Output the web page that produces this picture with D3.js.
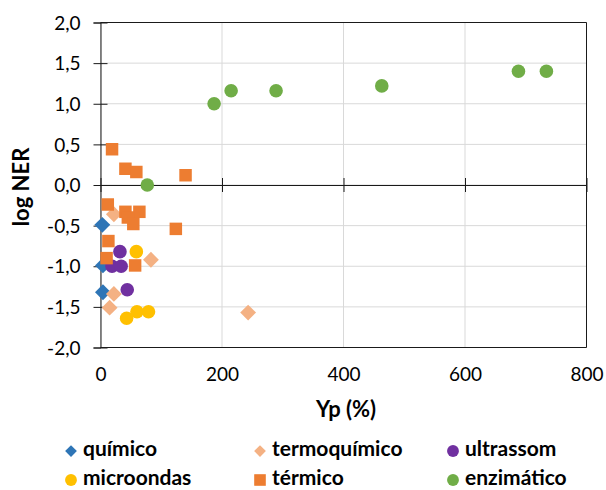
<!DOCTYPE html>
<html>
<head>
<meta charset="utf-8">
<script src="https://cdn.jsdelivr.net/npm/d3@7"></script>
<style>
  body { margin: 0; background: #fff; }
  text { font-family: Lato, "Liberation Sans", sans-serif; fill: #000; }
</style>
</head>
<body>
<div id="chart"></div>
<script>
const width = 606;
const height = 490;

// data: [Yp (%), log NER]
const quimico = [[3, -0.49], [4, -0.99], [4, -1.32]];
const termoquimico = [[22, -0.36], [83, -0.92], [22, -1.34], [15, -1.51], [243, -1.57]];
const ultrassom = [[32, -0.82], [19, -1.0], [34, -1.0], [44, -1.29]];
const microondas = [[59, -0.82], [43, -1.64], [60, -1.56], [79, -1.56]];
const termico = [[19, 0.44], [41, 0.20], [59, 0.16], [140, 0.12], [12, -0.24], [41, -0.33],
  [64, -0.33], [45, -0.40], [54, -0.48], [124, -0.54], [13, -0.69], [10, -0.90], [57, -0.99]];
const enzimatico = [[77, 0.0], [187, 1.0], [215, 1.16], [289, 1.16], [463, 1.22], [688, 1.40], [734, 1.40]];

const xTicks = [0, 200, 400, 600, 800];
const yTicks = [-2, -1.5, -1, -0.5, 0, 0.5, 1, 1.5, 2];

const series = [
  { name: "químico", data: quimico, color: "#2E75B6", shape: "diamond" },
  { name: "termoquímico", data: termoquimico, color: "#F4B183", shape: "diamond" },
  { name: "ultrassom", data: ultrassom, color: "#7030A0", shape: "circle" },
  { name: "microondas", data: microondas, color: "#FFC000", shape: "circle" },
  { name: "térmico", data: termico, color: "#ED7D31", shape: "square" },
  { name: "enzimático", data: enzimatico, color: "#70AD47", shape: "circle" }
];

const loc = d3.formatLocale({ decimal: ",", thousands: ".", grouping: [3], currency: ["", ""], minus: "-" });
const fmtY = loc.format(".1f");

const svg = d3.select("#chart").append("svg")
    .attr("width", width)
    .attr("height", height);

const x = d3.scaleLinear().domain([0, 800]).range([100.5, 586.5]);
const y = d3.scaleLinear().domain([-2, 2]).range([347.5, 22.5]);

// gridlines
svg.append("g").selectAll("line")
    .data(yTicks).enter().append("line")
    .attr("x1", x(0)).attr("x2", x(800))
    .attr("y1", d => y(d)).attr("y2", d => y(d))
    .attr("stroke", "#d9d9d9");
svg.append("g").selectAll("line")
    .data(xTicks).enter().append("line")
    .attr("x1", d => x(d)).attr("x2", d => x(d))
    .attr("y1", y(2)).attr("y2", y(-2))
    .attr("stroke", "#d9d9d9");

// plot border top / right / bottom
svg.append("path")
    .attr("d", `M${x(0)},${y(2)}H${x(800)}V${y(-2)}H${x(0)}`)
    .attr("fill", "none").attr("stroke", "#1a1a1a");

// y axis with crossing ticks
const yAxis = svg.append("g")
    .attr("transform", `translate(${x(0)},0)`)
    .call(d3.axisLeft(y).tickValues(yTicks).tickFormat(fmtY).tickSize(7).tickPadding(13));
yAxis.selectAll(".tick line").attr("x2", -7).attr("x1", 7).attr("stroke", "#1a1a1a");
yAxis.select(".domain").attr("stroke", "#1a1a1a");
yAxis.selectAll("text").style("font-size", "19px").attr("dy", "0.35em");

// x axis through zero, crossing ticks, labels below the plot
const xAxis = svg.append("g")
    .attr("transform", `translate(0,${y(0)})`)
    .call(d3.axisBottom(x).tickValues(xTicks).tickFormat("").tickSize(7).tickSizeOuter(0));
xAxis.selectAll(".tick line").attr("y1", -7).attr("y2", 7).attr("stroke", "#1a1a1a");
xAxis.select(".domain").attr("stroke", "#1a1a1a");

const xLab = svg.append("g")
    .attr("transform", `translate(0,${y(-2)})`)
    .call(d3.axisBottom(x).tickValues(xTicks).tickSize(0).tickPadding(20));
xLab.select(".domain").remove();
xLab.selectAll("text").style("font-size", "19px");

// axis titles
svg.append("text")
    .attr("x", 346).attr("y", 417)
    .attr("text-anchor", "middle")
    .style("font-size", "22px").style("font-weight", "bold")
    .text("Yp (%)");
svg.append("text")
    .attr("transform", "translate(29,187) rotate(-90)")
    .attr("text-anchor", "middle")
    .style("font-size", "22px").style("font-weight", "bold")
    .text("log NER");

const symbols = { circle: d3.symbolCircle, square: d3.symbolSquare, diamond: d3.symbolDiamond2 };
const sizes = { circle: 145, square: 156, diamond: 160 };
const legSizes = { circle: 110, square: 135, diamond: 88 };

// markers
series.forEach(s => {
  svg.append("g").selectAll("path")
      .data(s.data).enter().append("path")
      .attr("transform", d => `translate(${x(d[0])},${y(d[1])})`)
      .attr("d", d3.symbol().type(symbols[s.shape]).size(sizes[s.shape]))
      .attr("fill", s.color);
});

// legend
const legX = [71, 260, 453];
const legY = [451, 480];
const leg = svg.append("g").selectAll("g")
    .data(series).enter().append("g")
    .attr("transform", (d, i) => `translate(${legX[i % 3]},${legY[Math.floor(i / 3)]})`);
leg.append("path")
    .attr("d", d => d3.symbol().type(symbols[d.shape]).size(legSizes[d.shape])())
    .attr("fill", d => d.color);
leg.append("text")
    .attr("x", 12).attr("y", 4.5)
    .style("font-size", "21px").style("font-weight", "bold")
    .text(d => d.name);
</script>
</body>
</html>
